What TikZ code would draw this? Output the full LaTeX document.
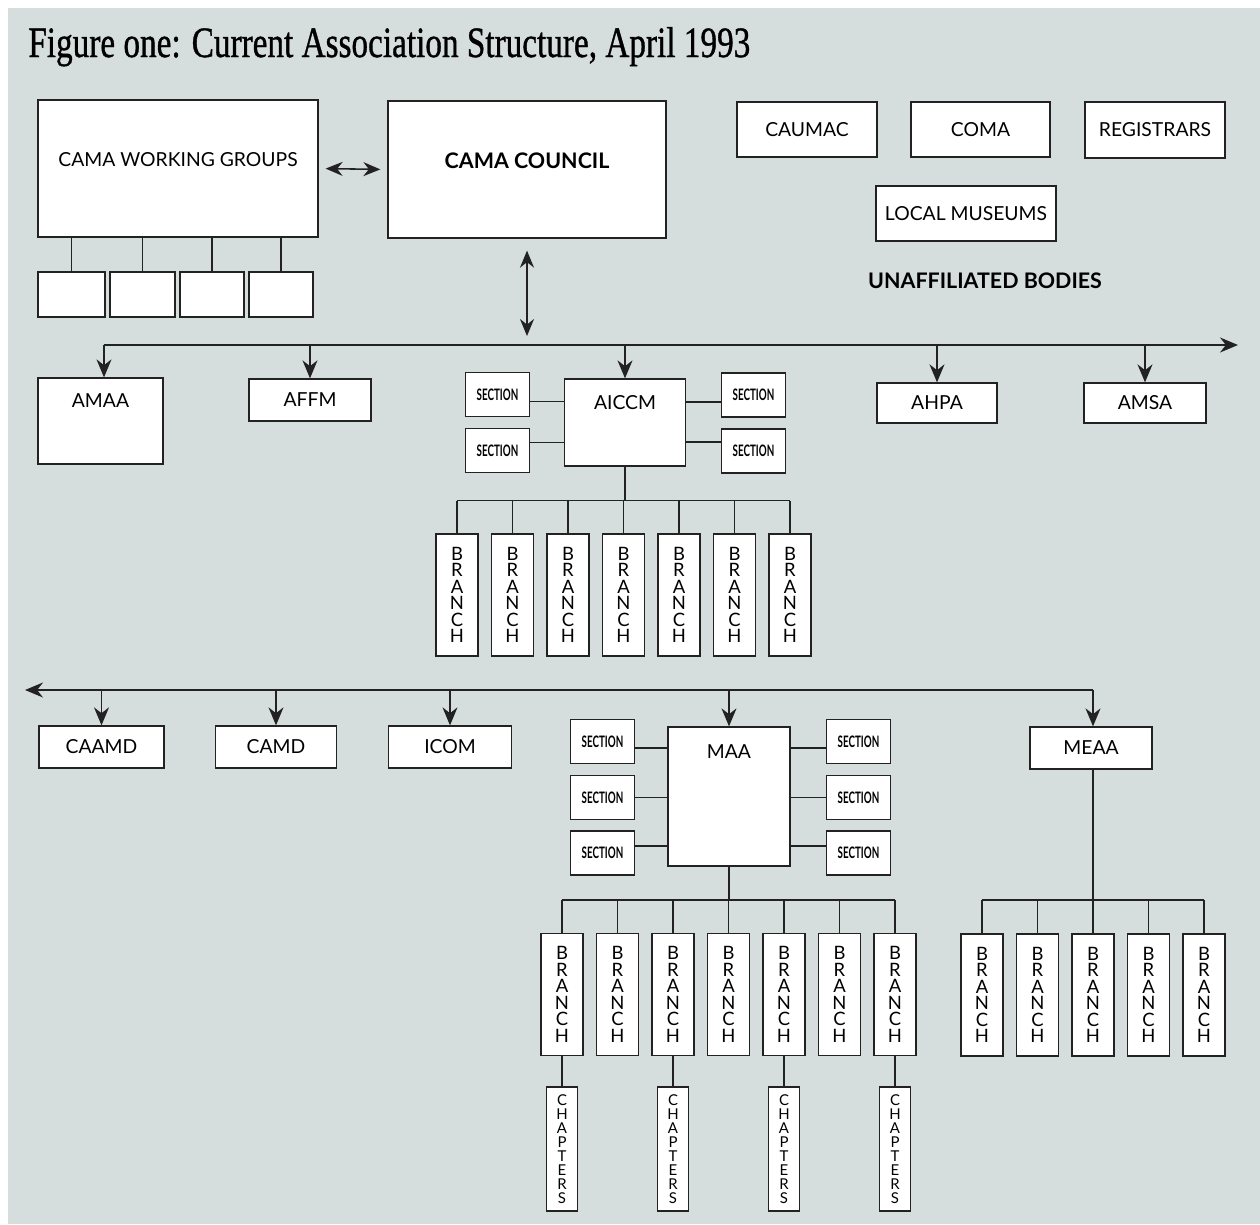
\documentclass[tikz,border=0pt]{standalone}
\usepackage{fontspec}
\usepackage{graphicx}
\usetikzlibrary{arrows.meta}
\newfontfamily\labelfont{Lato}
\newfontfamily\titlefont[FakeBold=1]{Liberation Serif}
\definecolor{paper}{RGB}{214,221,221}
\definecolor{ink}{RGB}{34,34,34}
\newcommand{\sectlabel}{\scalebox{0.62}[1]{SECTION}}
\newcommand{\branchtext}{B\\R\\A\\N\\C\\H}
\newcommand{\chaptertext}{C\\H\\A\\P\\T\\E\\R\\S}
\tikzset{
  boxtext/.style={font=\labelfont\fontsize{11}{13}\selectfont, inner sep=0pt},
  boldtext/.style={font=\labelfont\bfseries\fontsize{12.2}{14}\selectfont, inner sep=0pt},
  orgbox/.style={draw=ink, fill=white, line width=0.75pt, inner sep=0pt,
    font=\labelfont\fontsize{11}{13}\selectfont},
  sectionbox/.style={orgbox, minimum width=1.28cm, minimum height=0.88cm,
    font=\labelfont\bfseries\fontsize{9}{10}\selectfont},
  branchbox/.style={orgbox, minimum width=0.84cm, minimum height=2.44cm,
    align=center, font=\labelfont\fontsize{10.5}{9.4}\selectfont},
  chapterbox/.style={orgbox, minimum width=0.62cm, minimum height=2.48cm,
    align=center, font=\labelfont\fontsize{8.5}{7.97}\selectfont},
  link/.style={draw=ink, line width=0.9pt},
  feed/.style={link, -{Stealth[length=0.36cm, width=0.3cm]}},
  twoway/.style={link, {Stealth[length=0.34cm, width=0.28cm]}-{Stealth[length=0.34cm, width=0.28cm]}}
}
\begin{document}
\begin{tikzpicture}[x=0.02cm, y=-0.02cm]
  \useasboundingbox (0,0) rectangle (1260,1224);
  \fill[white] (0,0) rectangle (1260,1224);
  \fill[paper] (8,8) rectangle (1260,1224);

  \node[anchor=base west, inner sep=0pt] (title) at (28,57)
    {\resizebox{14.44cm}{0.6cm}{\titlefont Figure one: Current Association Structure, April 1993}};

  % CAMA and its working groups
  \node[orgbox, minimum width=5.6cm, minimum height=2.74cm,
    label={[boxtext, yshift=0.17cm]center:CAMA WORKING GROUPS}] (wg) at (178,168.5) {};
  \node[orgbox, minimum width=5.56cm, minimum height=2.74cm,
    label={[boldtext, yshift=0.17cm]center:CAMA COUNCIL}] (council) at (527,169.5) {};
  \draw[twoway, shorten <=0.14cm, shorten >=0.14cm] (wg.east) -- (council.west);

  \node[orgbox, minimum width=1.34cm, minimum height=0.9cm] (wg1) at (71.5,294.5) {};
  \node[orgbox, minimum width=1.3cm, minimum height=0.9cm] (wg2) at (142.5,294.5) {};
  \node[orgbox, minimum width=1.28cm, minimum height=0.9cm] (wg3) at (212,294.5) {};
  \node[orgbox, minimum width=1.28cm, minimum height=0.9cm] (wg4) at (281,294.5) {};
  \foreach \i in {1,...,4}
    \draw[link] (wg\i.north) -- (wg\i.north |- wg.south);

  % unaffiliated bodies
  \node[orgbox, minimum width=2.8cm, minimum height=1.1cm] (caumac) at (807,129.5) {CAUMAC};
  \node[orgbox, minimum width=2.78cm, minimum height=1.1cm] (coma) at (980.5,129.5) {COMA};
  \node[orgbox, minimum width=2.8cm, minimum height=1.12cm] (registrars) at (1155,130) {REGISTRARS};
  \node[orgbox, minimum width=3.6cm, minimum height=1.1cm] (localmus) at (966,213.5) {LOCAL MUSEUMS};
  \node[boldtext] (unaffil) at (985,281) {UNAFFILIATED BODIES};

  % first line of associations
  \node[orgbox, minimum width=2.5cm, minimum height=1.72cm,
    label={[boxtext, yshift=0.4cm]center:AMAA}] (amaa) at (100.5,421) {};
  \node[orgbox, minimum width=2.44cm, minimum height=0.84cm] (affm) at (310,400) {AFFM};
  \node[orgbox, minimum width=2.42cm, minimum height=1.74cm,
    label={[boxtext, yshift=0.39cm]center:AICCM}] (aiccm) at (625,422.5) {};
  \node[orgbox, minimum width=2.4cm, minimum height=0.8cm] (ahpa) at (937,403) {AHPA};
  \node[orgbox, minimum width=2.44cm, minimum height=0.8cm] (amsa) at (1145,403) {AMSA};

  \coordinate (lineonew) at (104,345);
  \coordinate (lineonee) at (1238,345);
  \draw[feed] (lineonew) -- (lineonee);
  \draw[twoway, shorten <=0.24cm, shorten >=0.18cm] (council.south) -- (council.south |- lineonew);
  \draw[feed] (lineonew) -- (amaa.north -| lineonew);
  \foreach \n in {affm, aiccm, ahpa, amsa}
    \draw[feed] (\n.north |- lineonew) -- (\n.north);

  \node[sectionbox] (as1) at (497.5,394.5) {\sectlabel};
  \node[sectionbox] (as2) at (497.5,450.5) {\sectlabel};
  \node[sectionbox] (as3) at (753.5,395) {\sectlabel};
  \node[sectionbox] (as4) at (753.5,451) {\sectlabel};
  \coordinate (as1j) at ([yshift=-0.14cm]as1.east);
  \coordinate (as2j) at ([yshift=0.16cm]as2.east);
  \coordinate (as3j) at ([yshift=-0.14cm]as3.west);
  \coordinate (as4j) at ([yshift=0.18cm]as4.west);
  \draw[link] (as1j) -- (as1j -| aiccm.west);
  \draw[link] (as2j) -- (as2j -| aiccm.west);
  \draw[link] (as3j) -- (as3j -| aiccm.east);
  \draw[link] (as4j) -- (as4j -| aiccm.east);

  \foreach \i/\x in {1/457, 2/512.5, 3/568, 4/623.5, 5/679, 6/734.5, 7/790}
    \node[branchbox] (ab\i) at (\x,595) {\branchtext};
  \coordinate (abus) at ([yshift=-0.68cm]aiccm.south);
  \draw[link] (aiccm.south) -- (abus);
  \draw[link] (ab1.north |- abus) -- (ab7.north |- abus);
  \foreach \i in {1,...,7}
    \draw[link] (ab\i.north) -- (ab\i.north |- abus);

  % second line of associations
  \node[orgbox, minimum width=2.5cm, minimum height=0.84cm] (caamd) at (101.5,747) {CAAMD};
  \node[orgbox, minimum width=2.42cm, minimum height=0.84cm] (camd) at (276,747) {CAMD};
  \node[orgbox, minimum width=2.46cm, minimum height=0.84cm] (icom) at (450,747) {ICOM};
  \node[orgbox, minimum width=2.44cm, minimum height=2.78cm,
    label={[boxtext, yshift=0.9cm]center:MAA}] (maa) at (729,796.5) {};
  \node[orgbox, minimum width=2.44cm, minimum height=0.84cm] (meaa) at (1091,748) {MEAA};

  \coordinate (linetwoe) at (1093,690);
  \coordinate (linetwow) at (25,690);
  \draw[feed] (linetwoe) -- (linetwow);
  \draw[feed] (linetwoe) -- (meaa.north -| linetwoe);
  \foreach \n in {caamd, camd, icom, maa}
    \draw[feed] (\n.north |- linetwoe) -- (\n.north);

  \node[sectionbox] (ms1) at (602.5,741.5) {\sectlabel};
  \node[sectionbox] (ms2) at (602.5,797.5) {\sectlabel};
  \node[sectionbox] (ms3) at (602.5,853) {\sectlabel};
  \node[sectionbox] (ms4) at (858.5,741.5) {\sectlabel};
  \node[sectionbox] (ms5) at (858.5,797.5) {\sectlabel};
  \node[sectionbox] (ms6) at (858.5,853) {\sectlabel};
  \coordinate (ms1j) at ([yshift=-0.13cm]ms1.east);
  \coordinate (ms2j) at ([yshift=0cm]ms2.east);
  \coordinate (ms3j) at ([yshift=0.14cm]ms3.east);
  \coordinate (ms4j) at ([yshift=-0.13cm]ms4.west);
  \coordinate (ms5j) at ([yshift=0cm]ms5.west);
  \coordinate (ms6j) at ([yshift=0.14cm]ms6.west);
  \foreach \i in {1,2,3}
    \draw[link] (ms\i j) -- (ms\i j -| maa.west);
  \foreach \i in {4,5,6}
    \draw[link] (ms\i j) -- (ms\i j -| maa.east);

  \foreach \i/\x in {1/562, 2/617.5, 3/673, 4/728.5, 5/784, 6/839.5, 7/895}
    \node[branchbox] (mb\i) at (\x,994.5) {\branchtext};
  \coordinate (mbus) at (729,900);
  \draw[link] (maa.south) -- (mbus);
  \draw[link] (mb1.north |- mbus) -- (mb7.north |- mbus);
  \foreach \i in {1,...,7}
    \draw[link] (mb\i.north) -- (mb\i.north |- mbus);

  \foreach \i/\x in {1/562, 3/673, 5/784, 7/895} {
    \node[chapterbox] (mc\i) at (\x,1149) {\chaptertext};
    \draw[link] (mb\i.south) -- (mc\i.north);
  }

  \foreach \i/\x in {1/982, 2/1037.5, 3/1093, 4/1148.5, 5/1204}
    \node[branchbox] (eb\i) at (\x,995) {\branchtext};
  \coordinate (ebus) at (1093,900);
  \draw[link] (meaa.south -| ebus) -- (ebus);
  \draw[link] (eb1.north |- ebus) -- (eb5.north |- ebus);
  \foreach \i in {1,...,5}
    \draw[link] (eb\i.north) -- (eb\i.north |- ebus);
\end{tikzpicture}
\end{document}
